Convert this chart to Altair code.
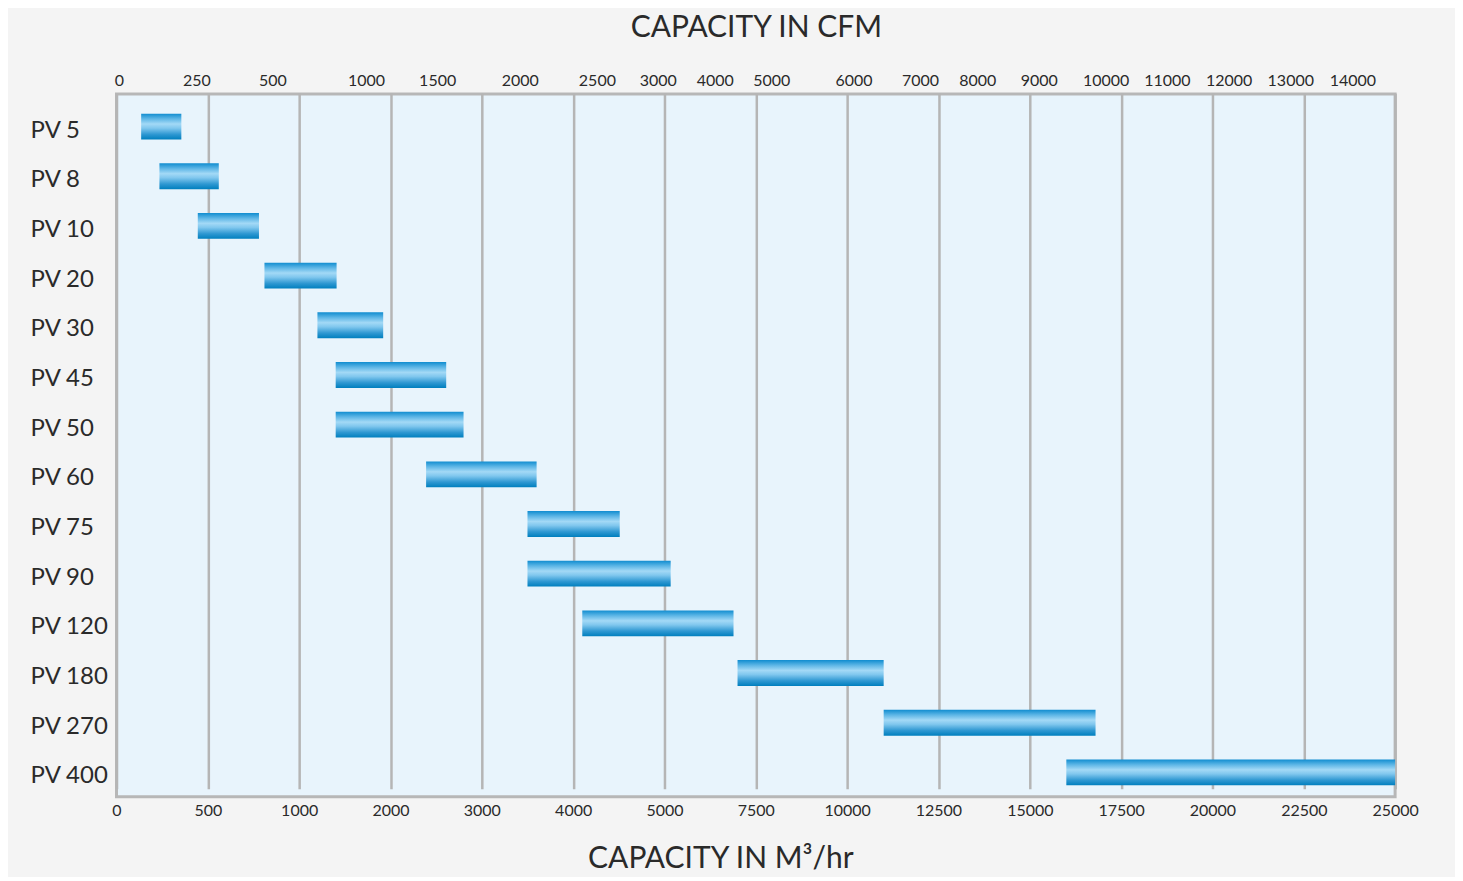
import altair as alt
import pandas as pd

# ---- data ----
models = ["PV 5", "PV 8", "PV 10", "PV 20", "PV 30", "PV 45", "PV 50",
          "PV 60", "PV 75", "PV 90", "PV 120", "PV 180", "PV 270", "PV 400"]
flow_min = [135, 235, 445, 810, 1200, 1400, 1400, 2390, 3500, 3500, 4100, 7000, 11000, 16000]
flow_max = [355, 560, 780, 1410, 1920, 2610, 2800, 3600, 4510, 5170, 6890, 11000, 16800, 25000]

m3_ticks = [0, 500, 1000, 2000, 3000, 4000, 5000, 7500, 10000, 12500,
            15000, 17500, 20000, 22500, 25000]

cfm_labels = ["0", "250", "500", "1000", "1500", "2000", "2500", "3000", "4000",
              "5000", "6000", "7000", "8000", "9000", "10000", "11000", "12000",
              "13000", "14000"]
# where each CFM label sits on the m3/hr scale
cfm_pos = [13, 437, 854, 1732, 2511, 3415, 4260, 4927, 6375, 7925, 10172, 11995,
           13560, 15245, 17075, 18750, 20445, 22130, 23833]

# ---- layout ----
W, H = 1281, 704
FONT = "Lato"
TXT = "#2a2a2a"
n_seg = len(m3_ticks) - 1

bars_df = pd.DataFrame({"model": models, "lo": flow_min, "hi": flow_max})
cfm_df = pd.DataFrame({"pos": cfm_pos, "label": cfm_labels})

x_scale = alt.Scale(type="linear", domain=m3_ticks,
                    range=[i * W / n_seg for i in range(n_seg + 1)],
                    nice=False, zero=False)

gradient = alt.Gradient(
    gradient="linear", x1=0, x2=0, y1=0, y2=1,
    stops=[
        alt.GradientStop(color="#118dd0", offset=0.0),
        alt.GradientStop(color="#5db6e6", offset=0.2),
        alt.GradientStop(color="#a3d9f6", offset=0.4),
        alt.GradientStop(color="#80c7ee", offset=0.56),
        alt.GradientStop(color="#2f98d2", offset=0.8),
        alt.GradientStop(color="#007fbe", offset=1.0),
    ],
)

bars = alt.Chart(bars_df).mark_bar(color=gradient, cornerRadius=0).encode(
    x=alt.X("lo:Q", scale=x_scale,
            axis=alt.Axis(values=m3_ticks, orient="bottom", format="d",
                          grid=True, gridColor="#b5b5b5", gridWidth=2.5,
                          domain=False, ticks=False, tickSize=0,
                          labelPadding=14, labelBaseline="middle",
                          labelFontSize=16, labelFont=FONT, labelColor=TXT,
                          labelFlush=False, labelOverlap=False,
                          title="CAPACITY IN M\u00b3/hr", titleFont=FONT,
                          titleFontSize=30, titleFontWeight="normal",
                          titleColor=TXT, titleX=605, titleY=62,
                          titleAlign="center", titleBaseline="middle")),
    x2="hi:Q",
    y=alt.Y("model:N", sort=models,
            scale=alt.Scale(range=[7.8, 704.6], paddingInner=0.48, paddingOuter=0.24),
            axis=alt.Axis(title=None, domain=False, ticks=False, tickSize=0,
                          grid=False, labelAlign="left", labelPadding=86.7,
                          labelOffset=4, labelBaseline="middle",
                          labelFontSize=24, labelFont=FONT, labelColor=TXT)),
)

label_expr = "[" + ",".join("'%s'" % s for s in cfm_labels) + "][indexof([" + \
    ",".join(str(p) for p in cfm_pos) + "], datum.value)]"

cfm_axis = alt.Chart(cfm_df).mark_point(opacity=0).encode(
    x=alt.X("pos:Q", scale=x_scale,
            axis=alt.Axis(values=cfm_pos, orient="top", labelExpr=label_expr,
                          grid=False, domain=False, ticks=False, tickSize=0,
                          labelPadding=13, labelBaseline="middle",
                          labelFontSize=16, labelFont=FONT, labelColor=TXT,
                          labelFlush=False, labelOverlap=False,
                          title="CAPACITY IN CFM", titleFont=FONT,
                          titleFontSize=30, titleFontWeight="normal",
                          titleColor=TXT, titleX=W / 2, titleY=-67,
                          titleAlign="center", titleBaseline="middle")),
)

chart = alt.layer(bars, cfm_axis).resolve_axis(x="independent").properties(
    width=W, height=H,
    background="#f4f4f4",
    autosize=alt.AutoSizeParams(type="none"),
    padding={"left": 108.7, "top": 85.3, "right": 60, "bottom": 80},
).configure_view(
    fill="#e8f4fc", stroke="#b7b7b7", strokeWidth=3
)

chart.save("out.html", embed_options={"renderer": "svg", "actions": False})
